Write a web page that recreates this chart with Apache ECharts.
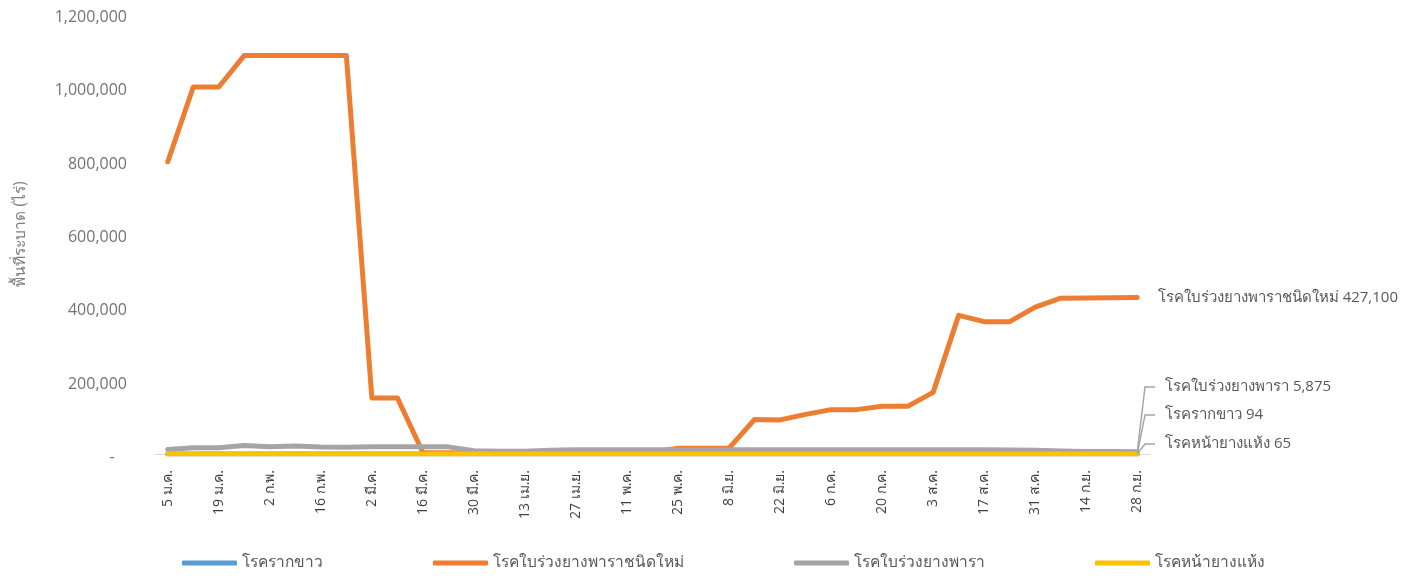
<!DOCTYPE html>
<html>
<head>
<meta charset="utf-8">
<script src="https://cdn.jsdelivr.net/npm/echarts@6/dist/echarts.min.js"></script>
<style>
html,body{margin:0;padding:0;background:#fff;}
#chart{width:1415px;height:579px;}
</style>
</head>
<body>
<div id="chart"></div>
<script>
const categories = ['5 ม.ค.','12 ม.ค.','19 ม.ค.','26 ม.ค.','2 ก.พ.','9 ก.พ.','16 ก.พ.','23 ก.พ.','2 มี.ค.','9 มี.ค.','16 มี.ค.','23 มี.ค.','30 มี.ค.','6 เม.ย.','13 เม.ย.','20 เม.ย.','27 เม.ย.','4 พ.ค.','11 พ.ค.','18 พ.ค.','25 พ.ค.','1 มิ.ย.','8 มิ.ย.','15 มิ.ย.','22 มิ.ย.','29 มิ.ย.','6 ก.ค.','13 ก.ค.','20 ก.ค.','27 ก.ค.','3 ส.ค.','10 ส.ค.','17 ส.ค.','24 ส.ค.','31 ส.ค.','7 ก.ย.','14 ก.ย.','21 ก.ย.','28 ก.ย.'];

const seriesNames = ['โรครากขาว','โรคใบร่วงยางพาราชนิดใหม่','โรคใบร่วงยางพารา','โรคหน้ายางแห้ง'];

const whiteRoot = [210,230,230,250,240,240,230,220,220,210,200,180,160,150,140,130,130,120,120,120,120,115,115,110,110,110,105,105,105,100,100,100,100,98,97,96,95,95,94];
const newLeafFall = [797000,1001000,1001000,1087000,1087000,1087000,1087000,1087000,153000,153000,4000,3500,3000,3000,3000,3500,4000,4000,4500,5000,16000,16000,16000,94000,93000,108000,121000,121000,130000,130000,168000,378000,361000,361000,400500,425000,425500,426000,427100];
const leafFall = [12000,17000,17000,23000,20000,21500,19000,18500,20000,20000,20000,19500,9000,7500,7500,10500,11500,11500,11500,11500,11500,11500,11500,11500,11500,11500,11500,11500,11500,11500,11500,11500,11500,11000,10000,8000,7000,6500,5875];
const dryBark = [150,160,160,170,170,170,160,160,150,150,140,130,120,110,100,100,100,95,95,90,90,90,85,85,85,80,80,80,75,75,75,72,70,70,68,68,66,65,65];

const yTicks = {min:0, max:1200000, interval:200000};
const colors = ['#5B9BD5','#ED7D31','#A5A5A5','#FFC000'];
const labelPos = [{y:415},{y:null},{y:387},{y:444}];

const FONT = "'Open Sans','Noto Sans',sans-serif";
const fmt = v => v.toLocaleString('en-US');

function buildData(values) {
  const last = values.length - 1;
  return values.map((v, i) => i === last ? {
    value: v, symbol: 'circle', symbolSize: 1,
    label: { show: true }
  } : v);
}

const allValues = [whiteRoot, newLeafFall, leafFall, dryBark];

const series = allValues.map((vals, si) => {
  const s = {
    name: seriesNames[si],
    type: 'line',
    data: buildData(vals),
    symbol: 'none',
    showSymbol: true,
    lineStyle: { color: colors[si], width: 5, cap: 'round', join: 'round' },
    itemStyle: { color: colors[si] },
    emphasis: { disabled: true },
    label: {
      show: false,
      color: '#595959',
      fontSize: 15,
      fontFamily: FONT
    }
  };
  if (si === 1) {
    s.label.position = 'right';
    s.label.distance = 20;
    s.label.formatter = p => p.seriesName + ' ' + fmt(p.value);
  } else {
    s.label.formatter = p => '{s|}' + p.seriesName + ' ' + fmt(p.value);
    s.label.rich = { s: { width: 10 } };
    s.labelLayout = p => p.dataIndex === vals.length - 1 ? {
      x: 1155, y: labelPos[si].y, align: 'left', verticalAlign: 'middle'
    } : {};
    s.labelLine = { show: true, length2: 10, lineStyle: { color: '#a6a6a6', width: 1.5 } };
  }
  return s;
});

const chart = echarts.init(document.getElementById('chart'), null, {renderer: 'canvas'});
chart.setOption({
  animation: false,
  color: colors,
  grid: { left: 155, right: 265, top: 14, bottom: 125, containLabel: false },
  legend: {
    data: seriesNames,
    left: 177, top: 550,
    icon: 'roundRect',
    itemWidth: 55, itemHeight: 5,
    itemGap: 110,
    textStyle: { color: '#595959', fontSize: 15.5, fontFamily: FONT }
  },
  xAxis: {
    type: 'category',
    data: categories,
    boundaryGap: true,
    axisLine: { show: true, lineStyle: { color: '#d9d9d9', width: 1 } },
    axisTick: { show: false },
    axisLabel: { interval: 1, rotate: 90, margin: 16, color: '#404040', fontSize: 14, fontFamily: FONT },
    splitLine: { show: false }
  },
  yAxis: {
    type: 'value',
    min: yTicks.min, max: yTicks.max, interval: yTicks.interval,
    name: 'พื้นที่ระบาด (ไร่)',
    nameLocation: 'middle',
    nameGap: 126,
    nameRotate: 90,
    nameTextStyle: { color: '#7f7f7f', fontSize: 15.5, fontFamily: FONT },
    axisLine: { show: false },
    axisTick: { show: false },
    splitLine: { show: false },
    axisLabel: {
      margin: 28,
      color: '#737373',
      fontSize: 16,
      fontFamily: FONT,
      formatter: v => '{v|' + (v === 0 ? '-   ' : fmt(v)) + '}',
      rich: { v: { color: '#737373', fontSize: 16, fontFamily: FONT, padding: [7, 0, 0, 0] } }
    }
  },
  series: series
});
</script>
</body>
</html>
